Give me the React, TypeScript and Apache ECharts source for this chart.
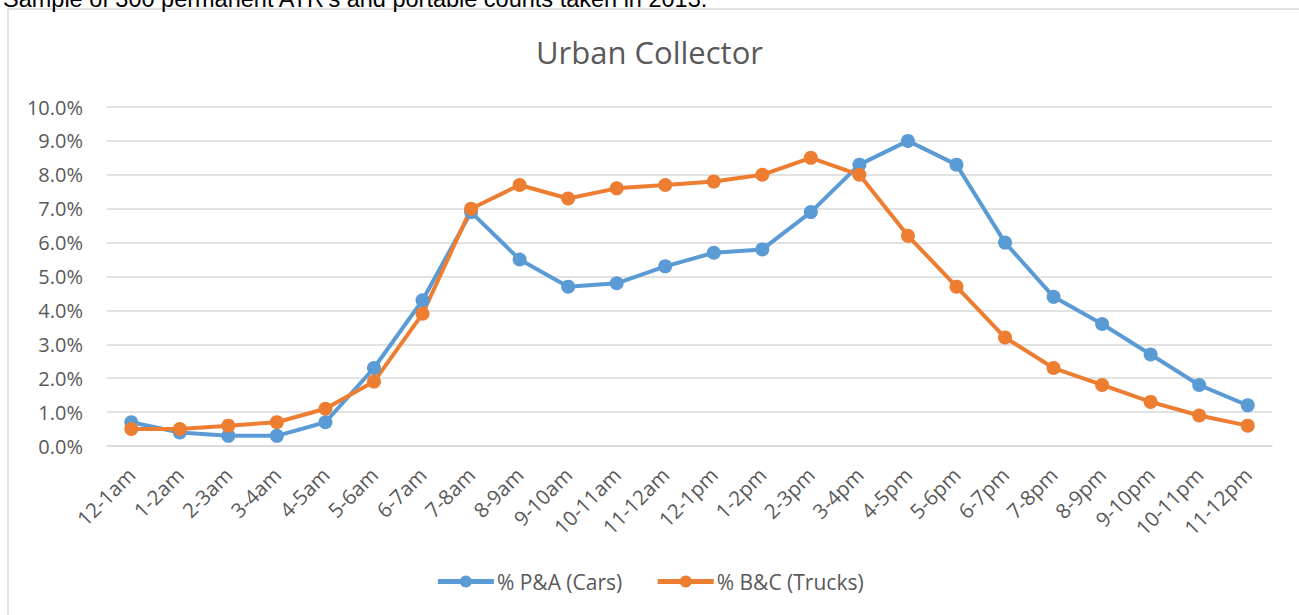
import React, { useEffect, useRef } from "react";
import * as echarts from "echarts";

const categories = [
  "12-1am", "1-2am", "2-3am", "3-4am", "4-5am", "5-6am", "6-7am", "7-8am",
  "8-9am", "9-10am", "10-11am", "11-12am", "12-1pm", "1-2pm", "2-3pm", "3-4pm",
  "4-5pm", "5-6pm", "6-7pm", "7-8pm", "8-9pm", "9-10pm", "10-11pm", "11-12pm",
];

const carsPct = [
  0.7, 0.4, 0.3, 0.3, 0.7, 2.3, 4.3, 6.9, 5.5, 4.7, 4.8, 5.3,
  5.7, 5.8, 6.9, 8.3, 9.0, 8.3, 6.0, 4.4, 3.6, 2.7, 1.8, 1.2,
];

const trucksPct = [
  0.5, 0.5, 0.6, 0.7, 1.1, 1.9, 3.9, 7.0, 7.7, 7.3, 7.6, 7.7,
  7.8, 8.0, 8.5, 8.0, 6.2, 4.7, 3.2, 2.3, 1.8, 1.3, 0.9, 0.6,
];

const seriesNames = ["% P&A (Cars)", "% B&C (Trucks)"];
const titleText = "Urban Collector";
const captionText = "Sample of 300 permanent ATR's and portable counts taken in 2013.";

const FONT = "'Open Sans', 'Liberation Sans', sans-serif";
const GREY = "#595959";
const BLUE = "#5B9BD5";
const ORANGE = "#ED7D31";

export default function App() {
  const ref = useRef<HTMLDivElement>(null);

  useEffect(() => {
    if (!ref.current) return;
    const chart = echarts.init(ref.current, null, { renderer: "svg" });
    chart.setOption({
      animation: false,
      backgroundColor: "#ffffff",
      title: {
        text: titleText,
        left: "center",
        top: 31,
        textStyle: { fontFamily: FONT, fontSize: 31, fontWeight: "normal", color: GREY },
      },
      graphic: [
        {
          type: "rect",
          shape: { x: 8, y: 9, width: 1400, height: 700 },
          style: { fill: "none", stroke: "#d9d9d9", lineWidth: 1.5 },
          silent: true,
        },
        {
          type: "text",
          x: 3,
          y: 11,
          style: {
            text: captionText,
            fontFamily: "'Liberation Sans', sans-serif",
            fontSize: 23.5,
            fill: "#000000",
            textVerticalAlign: "bottom",
          },
          silent: true,
        },
      ],
      legend: {
        bottom: 18,
        left: "center",
        itemWidth: 56,
        itemHeight: 15,
        itemGap: 33,
        textStyle: { fontFamily: FONT, fontSize: 21, color: GREY, padding: [0, 0, 0, -2] },
        lineStyle: { width: 5 },
        data: seriesNames,
      },
      grid: { left: 107, right: 27, top: 107, bottom: 169, containLabel: false },
      xAxis: {
        type: "category",
        data: categories,
        boundaryGap: true,
        axisLine: { show: true, lineStyle: { color: "#d9d9d9", width: 1.5 } },
        axisTick: { show: false },
        axisLabel: {
          rotate: 45,
          interval: 0,
          fontFamily: FONT,
          fontSize: 20.5,
          color: GREY,
          margin: 25,
        },
      },
      yAxis: {
        type: "value",
        min: 0,
        max: 10,
        interval: 1,
        axisLine: { show: false },
        axisTick: { show: false },
        splitLine: { lineStyle: { color: "#d9d9d9", width: 1.5 } },
        axisLabel: {
          formatter: (v: number) => v.toFixed(1) + "%",
          fontFamily: FONT,
          fontSize: 20,
          color: GREY,
          margin: 24,
        },
      },
      series: [
        {
          name: seriesNames[0],
          type: "line",
          data: carsPct,
          symbol: "circle",
          symbolSize: 14,
          lineStyle: { width: 4, color: BLUE },
          itemStyle: { color: BLUE },
        },
        {
          name: seriesNames[1],
          type: "line",
          data: trucksPct,
          symbol: "circle",
          symbolSize: 14,
          lineStyle: { width: 4, color: ORANGE },
          itemStyle: { color: ORANGE },
        },
      ],
    });
    return () => chart.dispose();
  }, []);

  return (
    <div style={{ position: "fixed", left: 0, top: 0, width: 1299, height: 615, overflow: "hidden" }}>
      <div ref={ref} style={{ width: 1299, height: 615 }} />
    </div>
  );
}
